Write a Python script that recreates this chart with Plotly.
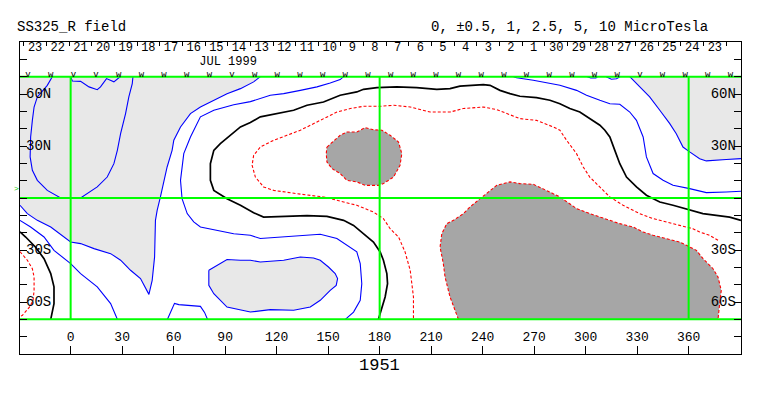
import plotly.graph_objects as go

# ---------------- data (longitude deg, latitude deg) ----------------
lon_min, lon_max = -29.5, 390.5
map_lat = 70

# positive (blue) contours
u_lon = [-10.7,-13.6,-19.4,-21.3,-22.3,-23.3,-23.6,-22.3,-19.4,-13.6,-5.8,5.8,15.5,21.3,25.2,27.2,29.1,32.0,33.9,35.9,36.3]
u_lat = [70,65.0,58.3,52.5,44.8,35.2,23.7,16.0,10.2,4.4,0.0,0.0,6.4,12.1,19.8,27.5,37.1,48.7,58.3,66.0,70]

bump_lon = [0.0,1.0,5.8,10.7,15.5,17.4,20.9,25.2,28.1,29.1]
bump_lat = [70,67.5,67.3,64.1,62.5,64.1,68.9,67.0,69.4,70]

g1_lon = [-29.5,-25.2,-19.4,-11.6,0.0,5.8,13.6,23.3,29.1,34.9,40.7,44.6,45.6,47.5,48.9,49.4,50.4,52.3,54.3,56.2,59.1,60.1,64.0,69.8,75.6,83.4,91.1,98.9,106.6,110.5]
g1_lat = [-4.2,-9.0,-12.9,-16.7,-25.4,-26.3,-29.2,-32.1,-35.9,-41.7,-46.5,-54.2,-55.6,-47.5,-34.0,-12.9,-7.1,0.6,10.2,17.9,27.5,33.3,41.0,48.7,52.5,56.4,60.2,63.1,67.0,70]

p1a_lon = [-29.5,-23.3,-15.5,-9.7,0.0,5.8,15.5,23.3,27.2]
p1a_lat = [-12.9,-16.7,-22.5,-30.2,-37.9,-43.6,-51.3,-60.9,-70]

p1b_lon = [159.0,157.0,151.2,143.5,133.8,124.1,116.3,110.5,104.7,95.0,83.4,75.6,69.8,65.9,64.0,64.9,67.9,71.7,75.6,95.0,104.7,110.5,124.1,133.8,145.4,155.1,162.9,166.7,168.7,169.6,168.7,164.8,160.0]
p1b_lat = [70,68.3,66.4,64.1,62.1,60.2,59.3,57.3,55.6,53.8,50.6,46.8,35.2,25.6,10.2,-0.4,-9.0,-13.8,-16.7,-20.6,-21.5,-23.4,-22.5,-21.5,-20.9,-23.4,-28.3,-31.1,-37.9,-49.4,-59.0,-65.8,-70]

isl_lon = [80.5,85.3,91.1,98.9,104.7,110.5,124.1,133.8,141.5,145.4,150.2,154.1,155.5,154.7,151.2,145.4,139.6,129.9,116.3,104.7,98.9,91.1,83.4,80.5,80.5]
isl_lat = [-41.7,-38.8,-35.5,-35.9,-35.9,-36.9,-35.9,-34.0,-34.6,-35.9,-39.8,-43.6,-46.5,-50.4,-53.3,-59.0,-62.9,-64.8,-64.4,-65.8,-64.4,-62.9,-55.2,-50.4,-41.7]

bb_lon = [56.4,58.0,60.5,63.0,68.0,75.6,78.0,79.7]
bb_lat = [-70,-66,-60.8,-61.5,-61.9,-62.5,-66,-70]

tb1_lon = [301,303,306,307]
tb1_lat = [70,69.2,69.3,70]
tb2_lon = [312,315,318,320]
tb2_lat = [70,68.5,68.8,70]

p1c_lon = [258.0,259.8,269.5,285.0,294.7,300.5,308.3,314.1,319.9,325.7,329.6,333.5,335.4,339.3,345.1,350.9,360.6,370.3,381.9,390.5]
p1c_lat = [70,69.4,67.9,65.0,62.1,59.3,56.4,54.4,54.1,49.6,44.8,35.2,23.7,14.1,10.2,7.3,5.4,3.1,3.5,3.9]

g2_lon = [325.7,331.5,337.3,343.2,349.0,352.8,356.7,360.6,366.4,370.3,374.2,381.9,390.5]
g2_lat = [70,64.1,58.3,50.6,42.9,37.1,29.4,26.6,22.7,21.4,21.8,22.2,22.7]

# neutral line (0)
z_lon = [179.3,181.3,183.2,184.6,184.2,182.2,180.3,176.4,170.6,164.8,159.0,149.3,137.7,124.1,112.4,106.6,98.9,91.1,83.4,81.4,81.4,83.4,87.2,98.9,104.7,110.5,120.2,129.9,137.7,147.3,157.0,166.7,170.6,178.4,190.0,201.6,213.3,221.0,226.8,232.6,240.4,244.3,250.1,255.9,261.7,271.4,279.2,285.0,290.8,296.6,302.4,308.3,311.2,314.1,317.0,319.9,323.8,329.6,335.4,343.2,350.9,360.6,368.3,376.1,383.9,390.5]
z_lat = [-70,-62.9,-57.1,-49.4,-43.6,-35.9,-31.1,-25.4,-20.6,-15.8,-12.9,-10.6,-10.2,-10.6,-11.0,-8.5,-4.2,-0.4,4.4,10.2,19.8,27.5,31.4,41.0,43.6,46.8,48.7,50.6,53.5,55.4,59.3,61.2,62.7,63.7,64.1,63.7,62.7,63.1,64.5,65.0,65.4,65.0,62.1,60.2,58.7,57.9,56.4,54.4,51.6,49.6,45.8,42.0,39.1,35.2,27.5,19.8,12.1,6.4,1.6,-2.3,-4.2,-6.7,-9.0,-10.0,-11.0,-12.9]

zl_lon = [-29.5,-26.2,-20.4,-15.5,-11.6,-9.7,-9.7,-11.6]
zl_lat = [-19.5,-22.5,-28.4,-35.0,-43.6,-51.3,-60.9,-70]

# negative (red) contours
n1_lon = [377.1,372.2,366.4,362.5,354.8,347.0,339.3,331.5,321.8,314.1,308.3,302.4,298.6,294.7,288.9,285.0,281.1,271.4,261.7,255.9,248.2,240.4,228.8,221.0,209.4,197.8,188.1,180.3,170.6,162.9,155.1,145.4,133.8,126.0,118.3,110.5,106.6,105.7,107.6,112.4,118.3,131.8,147.3,155.1,166.7,176.4,182.2,186.1,191.0,194.8,197.8,199.7,199.7]
n1_lat = [-24.4,-21.5,-19.6,-17.7,-15.8,-13.8,-11.9,-9.0,-4.2,0.6,6.4,12.1,17.9,25.6,33.3,39.1,41.0,44.8,45.8,48.2,51.0,52.5,51.6,49.6,49.6,52.5,53.5,52.9,52.9,51.6,49.6,44.8,39.1,36.2,33.3,29.4,24.6,18.9,12.1,6.4,4.4,2.5,0.6,-1.3,-4.2,-8.1,-11.9,-17.7,-22.5,-31.1,-41.7,-57.1,-70]

nl_lon = [-29.5,-27.5,-25.2,-22.3,-21.3,-21.3,-21.9,-24.0,-28.1,-29.5]
nl_lat = [-31.0,-33.0,-35.9,-40.8,-45.6,-53.3,-59.0,-63.0,-67.7,-68.5]

d1_lon = [149.3,154.1,157.0,160.9,166.7,171.6,176.4,181.3,186.1,191.0,192.9,191.9,188.1,182.2,179.3,171.6,166.7,160.9,157.0,152.2,149.3,148.9,149.3]
d1_lat = [29.4,33.3,36.2,38.1,38.1,40.6,39.4,39.1,36.2,32.3,25.6,18.9,12.1,8.3,7.3,7.3,9.3,10.2,14.1,17.0,20.8,25.6,29.4]

d2_lon = [225.9,223.0,221.0,218.1,217.1,215.2,216.2,219.1,223.0,228.8,232.6,238.5,244.3,248.2,255.9,261.7,269.5,275.3,281.1,285.0,288.9,294.7,302.4,308.3,314.1,319.9,327.6,333.5,339.3,347.0,354.8,358.7,364.5,368.4,371.3,374.2,377.1,379.0,378.1,377.1]
d2_lat = [-70,-62.9,-57.1,-45.6,-37.9,-28.3,-20.6,-14.8,-12.9,-9.0,-5.2,-0.4,4.4,7.3,9.3,8.3,7.9,5.4,2.5,0.6,-2.3,-6.1,-9.0,-11.0,-12.9,-14.8,-16.7,-19.6,-21.5,-23.4,-25.4,-27.3,-30.2,-35.0,-37.9,-40.8,-45.6,-53.3,-60.9,-70]

# axes / labels
lon_ticks = [0, 30, 60, 90, 120, 150, 180, 210, 240, 270, 300, 330, 360]
lat_ticks = [-80, -70, -60, -50, -40, -30, -20, -10, 0, 10, 20, 30, 40, 50, 60, 70, 80]
lat_label_vals = [60, 30, -30, -60]
lat_label_text = ["60N", "30N", "30S", "60S"]
grid_lons = [0, 180, 360]
grid_lats = [-70, 0, 70]

day_labels = ["23","22","21","20","19","18","17","16","15","14","13","12","11","10","9","8",
              "7","6","5","4","3","2","1","30","29","28","27","26","25","24","23"]
first_day_lon = -27.3
deg_per_day = 360 / 27.2753
obs_flags = list("vwvvwwwwwvwwwwwwwwwwwwwwwwwvwwww")
obs_offset = 2.5

# ---------------- styles ----------------
MONO = "Liberation Mono, DejaVu Sans Mono, monospace"
LIGHT = "#e8e8e8"
DARK = "#a6a6a6"
BLUE = "#0000ff"
RED = "#ff0000"
GREEN = "#00ff00"

fig = go.Figure()

def fill(lx, ly, color):
    fig.add_trace(go.Scatter(x=lx, y=ly, mode="lines", fill="toself", fillcolor=color,
                             line=dict(width=0, color=color), hoverinfo="skip", showlegend=False))

def line(lx, ly, color, width=1.1, dash="solid"):
    fig.add_trace(go.Scatter(x=lx, y=ly, mode="lines",
                             line=dict(width=width, color=color, dash=dash),
                             hoverinfo="skip", showlegend=False))

# fills
fill(g1_lon + [lon_min], g1_lat + [map_lat], LIGHT)
fill(g2_lon + [lon_max], g2_lat + [map_lat], LIGHT)
fill(isl_lon, isl_lat, LIGHT)
fill(d1_lon, d1_lat, DARK)
fill(d2_lon, d2_lat, DARK)

# positive contours
for lx, ly in [(u_lon, u_lat), (bump_lon, bump_lat), (g1_lon, g1_lat), (p1a_lon, p1a_lat),
               (p1b_lon, p1b_lat), (isl_lon, isl_lat), (bb_lon, bb_lat), (tb1_lon, tb1_lat),
               (tb2_lon, tb2_lat), (p1c_lon, p1c_lat), (g2_lon, g2_lat)]:
    line(lx, ly, BLUE, 1.1)

# neutral line
line(z_lon, z_lat, "black", 1.7)
line(zl_lon, zl_lat, "black", 1.7)

# negative contours
for lx, ly in [(n1_lon, n1_lat), (nl_lon, nl_lat), (d1_lon, d1_lat), (d2_lon, d2_lat)]:
    line(lx, ly, RED, 1.1, "3px,2px")

# green grid
gx, gy = [], []
for la in grid_lats:
    gx += [lon_min, lon_max, None]
    gy += [la, la, None]
for lo in grid_lons:
    gx += [lo, lo, None]
    gy += [-map_lat, map_lat, None]
line(gx, gy, GREEN, 2)

def text(lx, ly, labels, size, pos="middle center", color="black"):
    fig.add_trace(go.Scatter(x=lx, y=ly, mode="text", text=labels, textposition=pos,
                             textfont=dict(family=MONO, size=size, color=color),
                             cliponaxis=False, hoverinfo="skip", showlegend=False))

# bottom longitude labels
text(lon_ticks, [-80.4] * len(lon_ticks), [str(v) for v in lon_ticks], 13)
# latitude labels
text([-26.0] * 4, lat_label_vals, lat_label_text, 14, "middle right")
text([387.5] * 4, lat_label_vals, lat_label_text, 14, "middle left")
# day labels
day_centers = [first_day_lon + (i + 0.5) * deg_per_day for i in range(len(day_labels))]
text(day_centers, [86.3] * len(day_labels), day_labels, 12)
# observation flags
obs_x = [first_day_lon + obs_offset + i * deg_per_day for i in range(len(obs_flags))]
text(obs_x, [71.2] * len(obs_flags), obs_flags, 9)
# month label
text([91.7], [78.2], ["JUL 1999"], 12)

# day separators on a top axis
separators = [first_day_lon + i * deg_per_day for i in range(len(day_labels) + 1)]
fig.add_trace(go.Scatter(x=[None], y=[None], xaxis="x2", showlegend=False, hoverinfo="skip"))

# page body has an 8px margin, so the figure is sized to fit inside the window
fig.update_layout(
    width=747, height=380,
    margin=dict(l=12, r=14, t=34, b=34),
    paper_bgcolor="white", plot_bgcolor="white",
    showlegend=False,
    xaxis=dict(range=[lon_min, lon_max], showgrid=False, zeroline=False,
               showline=True, linecolor="black", linewidth=1, mirror=True,
               ticks="inside", tickvals=lon_ticks, ticklen=8, tickcolor="black",
               tickwidth=1, showticklabels=False),
    xaxis2=dict(range=[lon_min, lon_max], overlaying="x", side="top", showgrid=False,
                zeroline=False, showline=False, ticks="inside", tickvals=separators,
                ticklen=4, tickcolor="black", tickwidth=1, showticklabels=False),
    yaxis=dict(range=[-90, 90], showgrid=False, zeroline=False,
               showline=True, linecolor="black", linewidth=1, mirror="ticks",
               ticks="inside", tickvals=lat_ticks, ticklen=7, tickcolor="black",
               tickwidth=1, showticklabels=False),
    annotations=[
        dict(text="SS325_R field", xref="paper", yref="paper", x=-0.0069, y=1.048,
             xanchor="left", yanchor="middle", showarrow=False,
             font=dict(family=MONO, size=14, color="black")),
        dict(text="0, ±0.5, 1, 2.5, 5, 10 MicroTesla", xref="paper", yref="paper",
             x=0.957, y=1.048, xanchor="right", yanchor="middle", showarrow=False,
             font=dict(family=MONO, size=14, color="black")),
        dict(text="1951", xref="paper", yref="paper", x=0.4993, y=-0.037,
             xanchor="center", yanchor="middle", showarrow=False,
             font=dict(family=MONO, size=17, color="black")),
        dict(text=">", xref="paper", yref="paper", x=-0.0055, y=0.532,
             xanchor="center", yanchor="middle", showarrow=False,
             font=dict(family=MONO, size=8, color="#00cc00")),
    ],
)

fig.write_html("out.html")
